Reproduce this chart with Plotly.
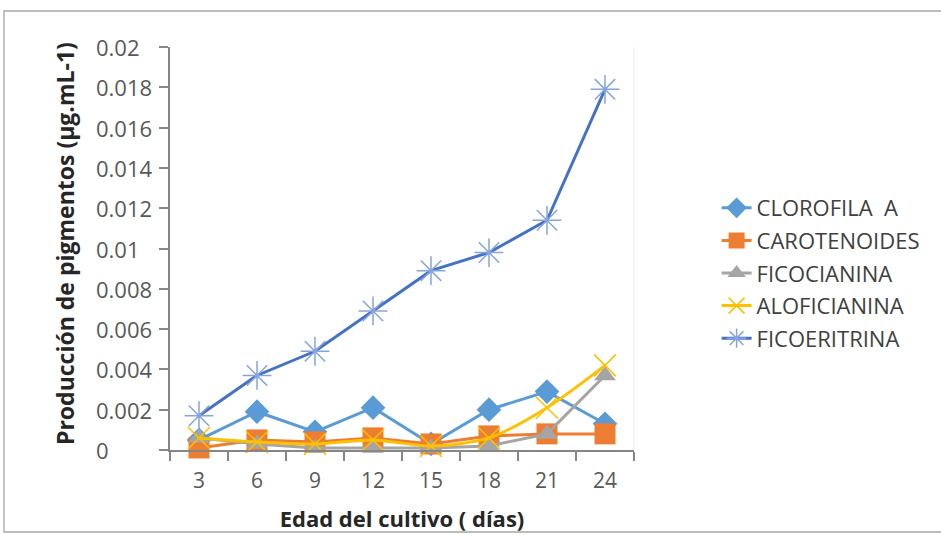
import plotly.graph_objects as go

# Culture age (days) and pigment production (µg.mL-1)
dias = ["3", "6", "9", "12", "15", "18", "21", "24"]
clorofila_a = [0.0005, 0.0019, 0.0009, 0.0021, 0.0003, 0.0020, 0.0029, 0.0013]
carotenoides = [0.0001, 0.0005, 0.0004, 0.0006, 0.0003, 0.0007, 0.0008, 0.0008]
ficocianina = [0.0006, 0.0003, 0.0001, 0.0001, 0.0001, 0.0002, 0.0008, 0.0037]
aloficianina = [0.0006, 0.0004, 0.0003, 0.0005, 0.0002, 0.0006, 0.0021, 0.0042]
ficoeritrina = [0.0017, 0.0037, 0.0049, 0.0069, 0.0089, 0.0098, 0.0114, 0.0179]

y_ticks = [0, 0.002, 0.004, 0.006, 0.008, 0.01, 0.012, 0.014, 0.016, 0.018, 0.02]
y_tick_labels = ["0", "0.002", "0.004", "0.006", "0.008", "0.01", "0.012",
                 "0.014", "0.016", "0.018", "0.02"]

FONT = "Open Sans"
AXIS_GREY = "#868686"
LABEL_GREY = "#595959"

fig = go.Figure()

series = [
    ("CLOROFILA  A", clorofila_a, "#5B9BD5", dict(symbol="diamond", size=19, color="#5B9BD5"), "linear"),
    ("CAROTENOIDES", carotenoides, "#ED7D31", dict(symbol="square", size=21, color="#ED7D31"), "linear"),
    ("FICOCIANINA", ficocianina, "#A5A5A5", dict(symbol="triangle-up", size=19, color="#A5A5A5"), "linear"),
    ("ALOFICIANINA", aloficianina, "#FFC000",
     dict(symbol="x-thin", size=22, color="#FFC000", line=dict(color="#FFC000", width=1.5)), "spline"),
    ("FICOERITRINA", ficoeritrina, "#4472C4",
     dict(symbol="asterisk", size=24, color="#86A4DC", line=dict(color="#86A4DC", width=1.5)), "linear"),
]

for name, values, color, marker, shape in series:
    fig.add_trace(go.Scatter(
        x=dias, y=values, name=name, mode="lines+markers",
        line=dict(color=color, width=3, shape=shape, smoothing=0.8),
        marker=marker, legendgroup=name, cliponaxis=False,
    ))

# Left-aligned value labels for the vertical axis
annotations = [
    dict(x=-0.1638, xref="paper", y=v, yref="y", text=t, showarrow=False,
         xanchor="left", yanchor="middle",
         font=dict(family=FONT, size=22, color=LABEL_GREY))
    for v, t in zip(y_ticks, y_tick_labels)
]
annotations.append(dict(
    x=-0.2263, xref="paper", y=0.5136, yref="paper",
    text="Producción de pigmentos (µg.mL-1)", textangle=-90, showarrow=False,
    xanchor="center", yanchor="middle",
    font=dict(family=FONT, size=23, color="#262626", weight=700),
))

fig.update_layout(
    width=941, height=535,
    margin=dict(l=170, r=307, t=47, b=85, autoexpand=False),
    paper_bgcolor="white", plot_bgcolor="white",
    font=dict(family=FONT, size=22, color=LABEL_GREY),
    showlegend=True,
    legend=dict(
        x=1.178, y=0.6526, xanchor="left", yanchor="top",
        traceorder="grouped", tracegroupgap=1,
        font=dict(family=FONT, size=22, color="#404040"),
        bgcolor="rgba(0,0,0,0)",
    ),
    xaxis=dict(
        type="category", categoryorder="array", categoryarray=dias,
        range=[-0.5, 7.5], tickson="boundaries", automargin=False,
        ticks="outside", ticklen=9, tickcolor=AXIS_GREY, tickwidth=1.5,
        showline=True, linecolor=AXIS_GREY, linewidth=1.5,
        showgrid=False, zeroline=False, ticklabelstandoff=11,
        tickfont=dict(family=FONT, size=21, color=LABEL_GREY),
        title=dict(text="Edad del cultivo ( días)", standoff=19,
                   font=dict(family=FONT, size=22, color="#262626", weight=700)),
    ),
    yaxis=dict(
        range=[0, 0.02], tickvals=y_ticks, showticklabels=False, automargin=False,
        ticks="outside", ticklen=9, tickcolor=AXIS_GREY, tickwidth=1.5,
        showline=True, linecolor=AXIS_GREY, linewidth=1.5,
        showgrid=False, zeroline=False,
    ),
    annotations=annotations,
    shapes=[
        # outer chart frame
        dict(type="rect", xref="paper", yref="paper",
             x0=-0.3578, x1=1.67, y0=-0.2035, y1=1.0893,
             line=dict(color="#A6A6A6", width=1.3), layer="below"),
        # faint plot-area edge on the right
        dict(type="line", xref="paper", yref="paper", x0=1, x1=1, y0=0, y1=1,
             line=dict(color="#EDEDED", width=1), layer="below"),
    ],
)

fig.write_html("out.html")
